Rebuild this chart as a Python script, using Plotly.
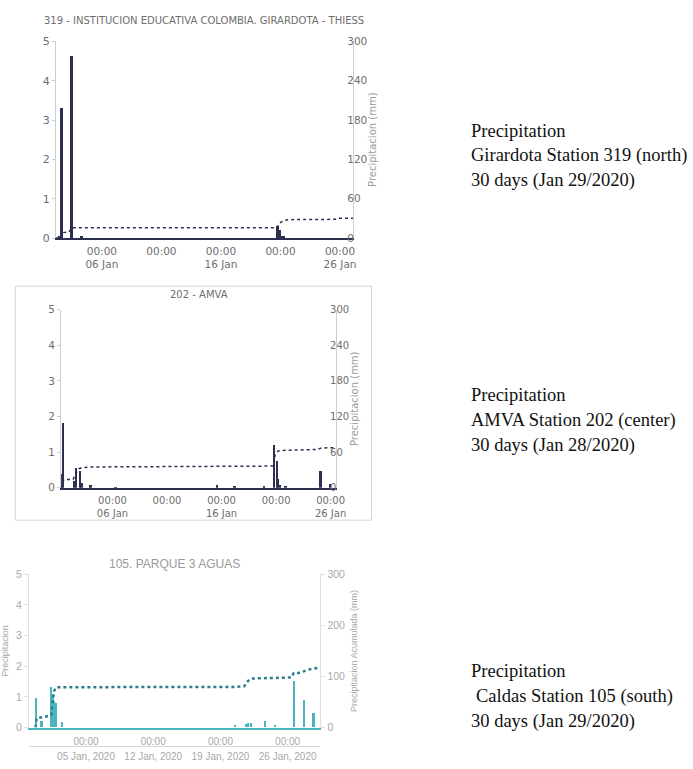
import plotly.graph_objects as go

W, H = 693, 769
DAY_MS = 86400000
BAR_W = 0.24 * DAY_MS

NAVY = "#2c2f4f"
TEAL_BAR = "#4cb4bf"
TEAL_LINE = "#2a7d8c"

# ---------------- Panel 1: 319 Girardota ----------------
p1_title = "319 - INSTITUCION EDUCATIVA COLOMBIA. GIRARDOTA - THIESS"
p1_bar_t = ["2020-01-02 10:00", "2020-01-02 15:00", "2020-01-03 11:00", "2020-01-04 07:00",
            "2020-01-20 18:00", "2020-01-20 22:00", "2020-01-21 01:00", "2020-01-21 05:00"]
p1_bar_v = [0.05, 3.3, 4.62, 0.02, 0.29, 0.19, 0.05, 0.03]
p1_cum_t = ["2020-01-02 03:30", "2020-01-02 13:50", "2020-01-02 15:00", "2020-01-03 05:45",
            "2020-01-03 11:00", "2020-01-20 17:00", "2020-01-20 21:00", "2020-01-21 05:00",
            "2020-01-21 14:00", "2020-01-25 14:00", "2020-01-25 20:00", "2020-01-27 02:00"]
p1_cum_v = [0, 0, 8, 9, 15.5, 15.5, 22, 26, 28, 28.5, 30, 30]
p1_range = ["2020-01-02 03:20", "2020-01-27 02:20"]

# ---------------- Panel 2: 202 AMVA ----------------
p2_title = "202 - AMVA"
p2_bar_t = ["2020-01-01 09:00", "2020-01-01 11:30", "2020-01-02 11:30", "2020-01-02 16:00",
            "2020-01-03 00:30", "2020-01-03 03:30", "2020-01-04 00:00", "2020-01-06 06:30",
            "2020-01-15 14:00", "2020-01-17 05:00", "2020-01-19 22:00", "2020-01-20 19:30",
            "2020-01-21 02:00", "2020-01-21 04:30", "2020-01-21 08:30", "2020-01-21 21:30",
            "2020-01-25 01:30", "2020-01-25 23:00"]
p2_bar_v = [0.38, 1.83, 0.2, 0.55, 0.48, 0.15, 0.08, 0.02, 0.08, 0.05, 0.03, 1.22,
            0.75, 0.25, 0.07, 0.03, 0.48, 0.1]
p2_cum_t = ["2020-01-01 07:00", "2020-01-01 10:30", "2020-01-01 12:40", "2020-01-02 09:20",
            "2020-01-02 16:00", "2020-01-02 22:20", "2020-01-03 04:50", "2020-01-04 06:50",
            "2020-01-20 18:30", "2020-01-20 21:40", "2020-01-21 04:20", "2020-01-21 21:30",
            "2020-01-24 19:00", "2020-01-25 03:40", "2020-01-26 12:00"]
p2_cum_v = [0, 5, 13.8, 14, 25, 32, 34, 35, 36.5, 55, 62, 63, 64.5, 67, 67.5]
p2_range = ["2020-01-01 07:00", "2020-01-26 12:00"]

# ---------------- Panel 3: 105 Parque 3 Aguas ----------------
p3_title = "105. PARQUE 3 AGUAS"
p3_bar_t = ["2019-12-30 18:00", "2019-12-31 08:30", "2020-01-01 09:00", "2020-01-01 12:40",
            "2020-01-01 16:30", "2020-01-01 20:40", "2020-01-02 11:30", "2020-01-20 11:45",
            "2020-01-21 16:30", "2020-01-21 20:40", "2020-01-22 04:50", "2020-01-23 15:20",
            "2020-01-24 15:50", "2020-01-26 15:20", "2020-01-27 16:00", "2020-01-28 16:30"]
p3_bar_v = [0.97, 0.2, 1.31, 1.1, 0.85, 0.8, 0.18, 0.07, 0.1, 0.15, 0.14, 0.22,
            0.07, 1.5, 0.89, 0.48]
p3_cum_t = ["2019-12-30 17:50", "2019-12-30 20:10", "2020-01-01 04:00", "2020-01-01 09:00",
            "2020-01-01 11:30", "2020-01-01 16:30", "2020-01-01 21:20", "2020-01-20 11:00",
            "2020-01-21 11:30", "2020-01-21 20:40", "2020-01-22 04:50", "2020-01-23 17:50",
            "2020-01-26 09:40", "2020-01-26 15:20", "2020-01-27 03:00", "2020-01-27 16:00",
            "2020-01-28 01:10", "2020-01-29 04:00"]
p3_cum_v = [0, 18, 23, 25, 46, 72, 79, 79.5, 81, 91, 96, 97, 98, 107, 107, 110, 113, 117]
p3_range = ["2019-12-30 01:10", "2020-01-29 09:40"]

# ticks
tick12_vals = ["2020-01-06", "2020-01-11", "2020-01-16", "2020-01-21", "2020-01-26"]
tick12_text = ["00:00<br>06 Jan", "00:00", "00:00<br>16 Jan", "00:00", "00:00<br>26 Jan"]
tick3_vals = ["2020-01-05", "2020-01-12", "2020-01-19", "2020-01-26"]
tick3_time = ["00:00", "00:00", "00:00", "00:00"]
tick3_date = ["05 Jan, 2020", "12 Jan, 2020", "19 Jan, 2020", "26 Jan, 2020"]

# side notes
notes = [
    ["Precipitation", "Girardota Station 319 (north)", "30 days (Jan 29/2020)"],
    ["Precipitation", "AMVA Station 202 (center)", "30 days (Jan 28/2020)"],
    ["Precipitation", "Caldas Station 105 (south)", "30 days (Jan 29/2020)"],
]


def px_x(v):
    return v / W


def px_y(v):
    return 1 - v / H


fig = go.Figure()

fig.add_trace(go.Bar(x=p1_bar_t, y=p1_bar_v, width=BAR_W, marker=dict(color=NAVY, line=dict(width=0)),
                     xaxis="x", yaxis="y", showlegend=False))
fig.add_trace(go.Scatter(x=p1_cum_t, y=p1_cum_v, mode="lines", line=dict(color=NAVY, width=1.5, dash="dot"),
                         xaxis="x", yaxis="y2", showlegend=False))
fig.add_trace(go.Bar(x=p2_bar_t, y=p2_bar_v, width=BAR_W, marker=dict(color=NAVY, line=dict(width=0)),
                     xaxis="x2", yaxis="y3", showlegend=False))
fig.add_trace(go.Scatter(x=p2_cum_t, y=p2_cum_v, mode="lines", line=dict(color=NAVY, width=1.5, dash="dot"),
                         xaxis="x2", yaxis="y4", showlegend=False))
fig.add_trace(go.Bar(x=p3_bar_t, y=p3_bar_v, width=BAR_W, marker=dict(color=TEAL_BAR, line=dict(width=0)),
                     xaxis="x3", yaxis="y5", showlegend=False))
fig.add_trace(go.Scatter(x=p3_cum_t, y=p3_cum_v, mode="lines", line=dict(color=TEAL_LINE, width=2.5, dash="dot"),
                         xaxis="x3", yaxis="y6", showlegend=False))
fig.add_trace(go.Scatter(x=[p3_range[0]], y=[None], mode="lines", xaxis="x4", yaxis="y5",
                         showlegend=False, hoverinfo="skip"))

DJ = "DejaVu Sans"
G1 = "#6e6e6e"
G3 = "#a8a8a8"

common_x12 = dict(type="date", tickmode="array", tickvals=tick12_vals, ticktext=tick12_text,
                  showgrid=False, zeroline=False, showline=True, linecolor=NAVY, linewidth=2,
                  ticks="", ticklabelstandoff=2, tickfont=dict(family=DJ, size=10.5, color=G1))
common_yl = dict(range=[0, 5], dtick=1, showgrid=False, zeroline=False, showline=True,
                 linecolor="#cfcfcf", ticks="outside", ticklen=3, tickcolor="#cfcfcf",
                 tickfont=dict(family=DJ, size=11, color=G1))
common_yr = dict(range=[0, 300], tickvals=[0, 60, 120, 180, 240, 300], showgrid=False, zeroline=False,
                 showline=True, linecolor="#cfcfcf", ticks="", side="right",
                 ticklabelstandoff=-9, tickfont=dict(family=DJ, size=10.5, color=G1),
                 title=dict(text="Precipitacion (mm)", font=dict(family=DJ, size=10, color="#9a9a9a"),
                            standoff=0))

fig.update_layout(
    width=W, height=H, margin=dict(l=0, r=0, t=0, b=0), autosize=False,
    paper_bgcolor="white", plot_bgcolor="white", bargap=0,
    xaxis=dict(common_x12, domain=[px_x(56.7), px_x(358.3)], range=p1_range, anchor="y"),
    yaxis=dict(common_yl, domain=[px_y(236), px_y(36)], anchor="x"),
    yaxis2=dict(common_yr, overlaying="y", anchor="x"),
    xaxis2=dict(common_x12, domain=[px_x(62), px_x(341)], range=p2_range, anchor="y3",
                tickfont=dict(family=DJ, size=10, color=G1)),
    yaxis3=dict(common_yl, domain=[px_y(490), px_y(309)], anchor="x2",
                tickfont=dict(family=DJ, size=10.5, color=G1)),
    yaxis4=dict(common_yr, overlaying="y3", anchor="x2",
                tickfont=dict(family=DJ, size=10, color=G1)),
    xaxis3=dict(type="date", domain=[px_x(29.3), px_x(325)], range=p3_range, anchor="y5",
                tickmode="array", tickvals=tick3_vals, ticktext=tick3_time, showgrid=False,
                zeroline=False, showline=True, linecolor=TEAL_BAR, linewidth=2, ticks="",
                ticklabelstandoff=3,
                tickfont=dict(family="Liberation Sans", size=10, color=G3)),
    xaxis4=dict(type="date", overlaying="x3", anchor="free", position=px_y(753), range=p3_range,
                tickmode="array", tickvals=tick3_vals, ticktext=tick3_date, showgrid=False,
                zeroline=False, showline=True, linecolor="#d6d6d6", linewidth=1, ticks="",
                side="bottom", ticklabelstandoff=1,
                tickfont=dict(family="Liberation Sans", size=10, color=G3)),
    yaxis5=dict(range=[0, 5], dtick=1, domain=[px_y(734), px_y(578)], anchor="x3", showgrid=False,
                zeroline=False, showline=True, linecolor="#dedede", ticks="outside", ticklen=4,
                tickcolor="#dedede", tickfont=dict(family="Liberation Sans", size=10.5, color=G3),
                title=dict(text="Precipitacion", font=dict(family="Liberation Sans", size=9, color=G3),
                           standoff=6)),
    yaxis6=dict(range=[0, 300], tickvals=[0, 100, 200, 300], overlaying="y5", anchor="x3", side="right",
                showgrid=False, zeroline=False, showline=True, linecolor="#dedede", ticks="outside",
                ticklen=4, tickcolor="#dedede",
                tickfont=dict(family="Liberation Sans", size=10.5, color=G3),
                title=dict(text="Precipitacion Acumulada (mm)",
                           font=dict(family="Liberation Sans", size=9, color=G3), standoff=6)),
)

# panel titles
fig.add_annotation(text=p1_title, x=px_x(207), y=px_y(15), xref="paper", yref="paper",
                   showarrow=False, xanchor="center", yanchor="middle",
                   font=dict(family=DJ, size=10, color=G1))
fig.add_annotation(text=p2_title, x=px_x(202), y=px_y(293), xref="paper", yref="paper",
                   showarrow=False, xanchor="center", yanchor="middle",
                   font=dict(family=DJ, size=10, color=G1))
fig.add_annotation(text=p3_title, x=px_x(177), y=px_y(568), xref="paper", yref="paper",
                   showarrow=False, xanchor="center", yanchor="middle",
                   font=dict(family="Liberation Sans", size=12, color="#9a9a9a"))

# frame around panel 2
fig.add_shape(type="rect", xref="paper", yref="paper", x0=px_x(15.5), x1=px_x(377),
              y0=px_y(523), y1=px_y(285), line=dict(color="#d4d4d4", width=1))

# side notes
note_y = [[127, 152, 178], [396, 422, 447], [676, 702, 728]]
note_x = [[476, 476, 476], [476, 476, 476], [476, 480.5, 476]]
for blk, ys, xs in zip(notes, note_y, note_x):
    for txt, yy, xx in zip(blk, ys, xs):
        fig.add_annotation(text=txt, x=px_x(xx), y=px_y(yy), xref="paper", yref="paper",
                           showarrow=False, xanchor="left", yanchor="middle",
                           font=dict(family="Liberation Serif", size=18.5, color="#111111"))

fig.write_html("out.html")
